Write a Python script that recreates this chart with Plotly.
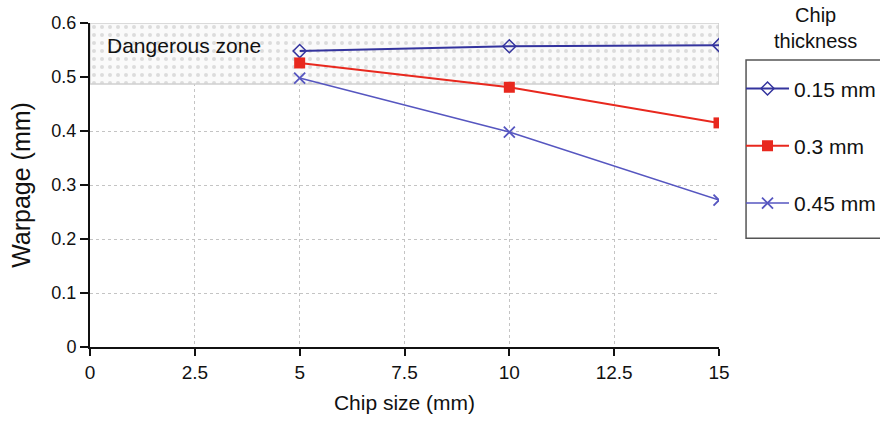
import plotly.graph_objects as go

# Chip size (mm) and warpage (mm) for each chip thickness
chip_size = [5, 10, 15]
warp_015 = [0.548, 0.557, 0.559]
warp_030 = [0.526, 0.481, 0.415]
warp_045 = [0.498, 0.398, 0.272]

x_ticks = [0, 2.5, 5, 7.5, 10, 12.5, 15]
x_tick_labels = ["0", "2.5", "5", "7.5", "10", "12.5", "15"]
y_ticks = [0, 0.1, 0.2, 0.3, 0.4, 0.5, 0.6]
y_tick_labels = ["0", "0.1", "0.2", "0.3", "0.4", "0.5", "0.6"]

# Dangerous zone limits
zone_x = [0, 15]
zone_y = [0.487, 0.6]

FONT = "Liberation Sans, Arial, sans-serif"
BLUE = "#34349e"
RED = "#e8281e"
LIGHTBLUE = "#5656c0"

fig = go.Figure()

# Dotted dangerous zone band
fig.add_trace(go.Scatter(
    x=[zone_x[0], zone_x[1], zone_x[1], zone_x[0], zone_x[0]],
    y=[zone_y[0], zone_y[0], zone_y[1], zone_y[1], zone_y[0]],
    mode="lines",
    fill="toself",
    fillcolor="rgba(250,250,250,1)",
    fillpattern=dict(shape=".", fgcolor="#bdbdbd", bgcolor="#fafafa", size=8, solidity=0.2),
    line=dict(color="#cfcfcf", width=1.5),
    showlegend=False,
    hoverinfo="skip",
))

fig.add_trace(go.Scatter(
    x=chip_size, y=warp_015, name="0.15 mm", legendgroup="a",
    mode="lines+markers",
    line=dict(color=BLUE, width=2),
    marker=dict(symbol="diamond-open", size=10, color=BLUE, line=dict(width=1.5)),
))
fig.add_trace(go.Scatter(
    x=chip_size, y=warp_030, name="0.3 mm", legendgroup="b",
    mode="lines+markers",
    line=dict(color=RED, width=2),
    marker=dict(symbol="square", size=11, color=RED),
))
fig.add_trace(go.Scatter(
    x=chip_size, y=warp_045, name="0.45 mm", legendgroup="c",
    mode="lines+markers",
    line=dict(color=LIGHTBLUE, width=1.5),
    marker=dict(symbol="x-thin-open", size=11, color=LIGHTBLUE, line=dict(width=1.8, color=LIGHTBLUE)),
))

fig.add_annotation(
    x=0.35, y=0.559, xref="x", yref="y", text="Dangerous zone",
    showarrow=False, xanchor="left", yanchor="middle",
    font=dict(family=FONT, size=21, color="#111"),
)

# Legend title placed above the boxed legend
fig.add_annotation(
    x=1.153, y=0.985, xref="paper", yref="paper", text="Chip<br>thickness",
    showarrow=False, xanchor="center", yanchor="middle",
    font=dict(family=FONT, size=20, color="#111"),
)

# Legend frame running off the right edge
fig.add_shape(
    type="rect", xref="paper", yref="paper",
    x0=1.043, x1=1.3, y0=0.336, y1=0.886,
    line=dict(color="#555", width=1.5), fillcolor="rgba(0,0,0,0)",
)

fig.update_layout(
    width=880, height=422,
    margin=dict(l=90, r=161, t=23, b=75, autoexpand=False),
    paper_bgcolor="white",
    plot_bgcolor="white",
    font=dict(family=FONT, size=18, color="#111"),
    showlegend=True,
    legend=dict(
        x=1.035, y=0.86, xanchor="left", yanchor="top",
        borderwidth=0, bgcolor="rgba(0,0,0,0)",
        font=dict(family=FONT, size=21, color="#111"),
        tracegroupgap=27,
        itemwidth=43,
    ),
    xaxis=dict(
        range=[0, 15], tickvals=x_ticks, ticktext=x_tick_labels,
        showline=True, linecolor="#111", linewidth=2,
        ticks="outside", ticklen=7, tickcolor="#111", tickwidth=1.5,
        showgrid=True, gridcolor="#c4c4c4", griddash="dot", gridwidth=1,
        zeroline=False,
        title=dict(text="Chip size (mm)", font=dict(family=FONT, size=21), standoff=14),
        tickfont=dict(family=FONT, size=19),
    ),
    yaxis=dict(
        range=[0, 0.6], tickvals=y_ticks, ticktext=y_tick_labels,
        showline=True, linecolor="#111", linewidth=2,
        ticks="outside", ticklen=8, tickcolor="#111", tickwidth=1.5,
        showgrid=True, gridcolor="#c4c4c4", griddash="dot", gridwidth=1,
        zeroline=False,
        title=dict(text="Warpage (mm)", font=dict(family=FONT, size=25), standoff=14),
        tickfont=dict(family=FONT, size=18),
    ),
)

fig.write_html("out.html")
